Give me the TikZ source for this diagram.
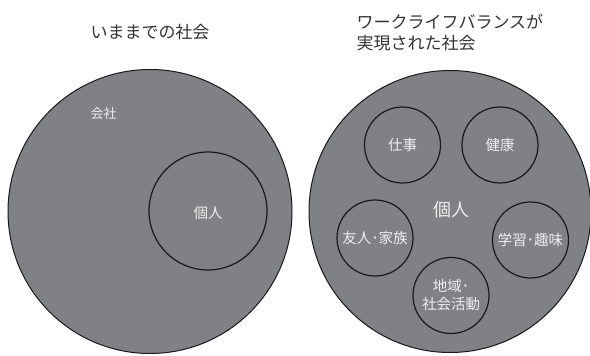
\documentclass[tikz,border=0pt]{standalone}
\usepackage{fontspec}
\setmainfont{Noto Sans CJK JP}
\newfontfamily\jpfont{Noto Sans CJK JP}
\definecolor{discgray}{RGB}{128,129,133}
\definecolor{titlegray}{RGB}{51,51,51}
\definecolor{lighttext}{RGB}{238,238,238}
\begin{document}
\begin{tikzpicture}[x=1pt,y=1pt,
  outerdisc/.style={circle,draw=black!90,fill=discgray,line width=1pt,inner sep=0pt},
  innerdisc/.style={circle,draw=black!90,line width=1.2pt,inner sep=0pt},
  intext/.style={text=lighttext,font=\jpfont\fontsize{14.5}{18}\selectfont,align=center},
  titletext/.style={text=titlegray,font=\jpfont\fontsize{17}{21}\selectfont}
]
\useasboundingbox (0,0) rectangle (590,356);
% left
\node[titletext] (t1) at (150,324) {いままでの社会};
\node[outerdisc,minimum size=284pt] (c1) at (150,144.5) {};
\node[intext,font=\jpfont\fontsize{13}{15}\selectfont] (kaisha) at (103.5,242) {会社};
\node[innerdisc,minimum size=118pt] (k1) at (208,145) {};
\node[intext] (kojin1) at (208,143) {個人};
% right
\node[titletext,anchor=west,align=left] (t2) at (353,323.5) {ワークライフバランスが\\実現された社会};
\node[outerdisc,minimum size=282pt] (c2) at (450,144.5) {};
\node[intext,font=\jpfont\fontsize{18}{20}\selectfont] (kojin2) at (451,146) {個人};
\node[innerdisc,minimum size=76pt] (s1) at (402.5,211) {};
\node[intext] at (s1) {仕事};
\node[innerdisc,minimum size=76pt] (s2) at (500,211) {};
\node[intext] at (s2) {健康};
\node[innerdisc,minimum size=76pt] (s3) at (375,118) {};
\node[intext] at (s3) {友人･家族};
\node[innerdisc,minimum size=76pt] (s4) at (530.5,116) {};
\node[intext] at (s4) {学習･趣味};
\node[innerdisc,minimum size=76pt] (s5) at (451,60.5) {};
\node[intext] at (s5) {地域･\\社会活動};
\end{tikzpicture}
\end{document}
